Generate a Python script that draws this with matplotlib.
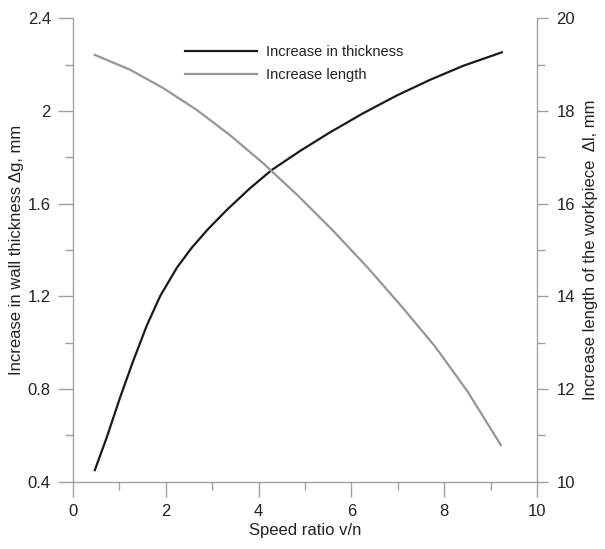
import matplotlib
matplotlib.use("Agg")
import matplotlib.pyplot as plt
from matplotlib.ticker import MultipleLocator

plt.rcParams['font.family'] = ['Liberation Sans', 'DejaVu Sans']

# Data
x_thick = [0.47, 0.73, 1.01, 1.30, 1.59, 1.88, 2.24, 2.56, 2.90, 3.31, 3.80, 4.28, 4.89,
           5.54, 6.26, 6.98, 7.69, 8.41, 9.24]
thickness = [0.45, 0.593, 0.761, 0.923, 1.074, 1.202, 1.324, 1.410, 1.488, 1.572, 1.664,
             1.745, 1.827, 1.908, 1.991, 2.067, 2.134, 2.195, 2.253]

x_len = [0.47, 1.23, 1.95, 2.67, 3.38, 4.10, 4.85, 5.60, 6.35, 7.10, 7.80, 8.50, 9.22]
length = [19.21, 18.89, 18.49, 18.02, 17.48, 16.87, 16.17, 15.42, 14.62, 13.76, 12.92,
          11.95, 10.79]

x_ticks = [0, 2, 4, 6, 8, 10]
left_ticks = [0.4, 0.8, 1.2, 1.6, 2.0, 2.4]
left_labels = ['0.4', '0.8', '1.2', '1.6', '2', '2.4']
right_ticks = [10, 12, 14, 16, 18, 20]

spine_c = '#a0a0a0'
text_c = '#222222'
black_c = '#1a1a1a'
gray_c = '#9b958f'

fig = plt.figure(figsize=(6.05, 5.49), dpi=100)
ax = fig.add_axes([0.1207, 0.1226, 0.767, 0.8441])
ax2 = ax.twinx()

l1, = ax.plot(x_thick, thickness, color=black_c, lw=1.6, label='Increase in thickness',
              solid_joinstyle='round')
l2, = ax2.plot(x_len, length, color=gray_c, lw=1.6, label='Increase length',
               solid_joinstyle='round')

ax.set_xlim(0, 10)
ax.set_ylim(0.4, 2.4)
ax2.set_ylim(10, 20)

ax.set_xticks(x_ticks)
ax.set_xticklabels([str(t) for t in x_ticks])
ax.xaxis.set_minor_locator(MultipleLocator(1))
ax.set_yticks(left_ticks)
ax.set_yticklabels(left_labels)
ax.yaxis.set_minor_locator(MultipleLocator(0.2))
ax2.set_yticks(right_ticks)
ax2.set_yticklabels([str(t) for t in right_ticks])
ax2.yaxis.set_minor_locator(MultipleLocator(1))

for a in (ax, ax2):
    a.spines['top'].set_visible(False)
    for s in a.spines.values():
        s.set_color(spine_c)
        s.set_linewidth(1.0)
    a.tick_params(which='major', length=11, width=1.0, color=spine_c,
                  labelsize=12, labelcolor=text_c, pad=5)
    a.tick_params(which='minor', length=6, width=1.0, color=spine_c)
ax.spines['right'].set_visible(False)
ax2.spines['left'].set_visible(False)
ax2.spines['bottom'].set_visible(False)
ax2.tick_params(which='major', length=8, pad=6)

ax.set_xlabel('Speed ratio v/n', fontsize=12, color=text_c, labelpad=3)
ax.set_ylabel('Increase in wall thickness \u0394g, mm', fontsize=12, color=text_c, labelpad=3)
ax2.set_ylabel('Increase length of the workpiece  \u0394l, mm', fontsize=12, color=text_c,
               labelpad=6, rotation=90)

leg = ax.legend(handles=[l1, l2], loc='upper left', bbox_to_anchor=(0.212, 0.97),
                frameon=False, fontsize=10.5, handlelength=5.0, handletextpad=0.6,
                labelspacing=0.6)
for t in leg.get_texts():
    t.set_color(text_c)

fig.savefig('out.png', dpi=100, facecolor='white')
